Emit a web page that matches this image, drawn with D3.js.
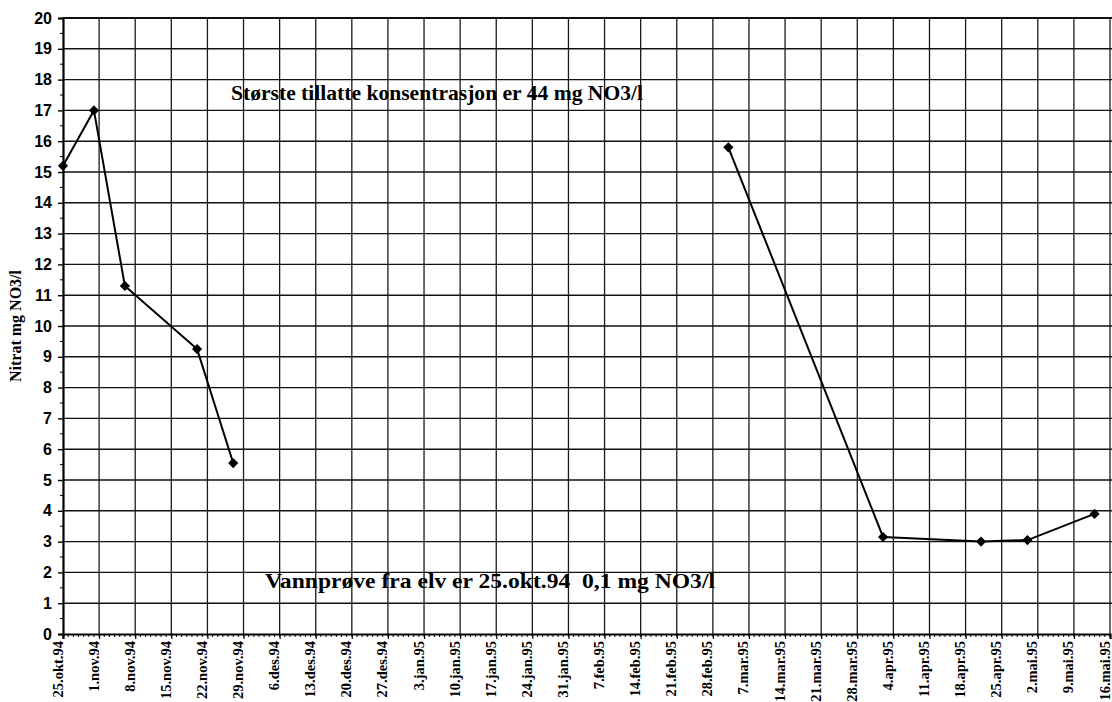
<!DOCTYPE html>
<html>
<head>
<meta charset="utf-8">
<script src="https://cdn.jsdelivr.net/npm/d3@7"></script>
<style>
  html, body { margin: 0; padding: 0; background: #fff; }
  svg { display: block; }
</style>
</head>
<body>
<div id="chart"></div>
<script>
// Nitrate samples (mg NO3/l), autumn 1994 and spring 1995
const autumnDates  = ["1994-10-25", "1994-10-31", "1994-11-06", "1994-11-20", "1994-11-27"];
const autumnValues = [15.2, 17.0, 11.3, 9.25, 5.55];
const springDates  = ["1995-03-03", "1995-04-02", "1995-04-21", "1995-04-30", "1995-05-13"];
const springValues = [15.8, 3.15, 3.0, 3.05, 3.9];

// Weekly axis labels starting 25.okt.94
const tickLabels = [
  "25.okt.94", "1.nov.94", "8.nov.94", "15.nov.94", "22.nov.94", "29.nov.94",
  "6.des.94", "13.des.94", "20.des.94", "27.des.94", "3.jan.95", "10.jan.95",
  "17.jan.95", "24.jan.95", "31.jan.95", "7.feb.95", "14.feb.95", "21.feb.95",
  "28.feb.95", "7.mar.95", "14.mar.95", "21.mar.95", "28.mar.95", "4.apr.95",
  "11.apr.95", "18.apr.95", "25.apr.95", "2.mai.95", "9.mai.95", "16.mai.95"
];
const yTicks = d3.range(0, 21, 1);

const noteTop = "Største tillatte konsentrasjon er 44 mg NO3/l";
const noteBottom = "Vannprøve fra elv er 25.okt.94  0,1 mg NO3/l";
const yTitle = "Nitrat mg NO3/l";

const W = 1112, H = 702;
const plotLeft = 63, plotTop = 18, plotBottom = 634, plotRight = 1112;

const parse = d3.utcParse("%Y-%m-%d");
const start = parse("1994-10-25");
const tickDates = tickLabels.map((_, i) => d3.utcDay.offset(start, 7 * i));

const x = d3.scaleUtc()
  .domain([start, tickDates[tickDates.length - 1]])
  .range([plotLeft, 1110]);
const y = d3.scaleLinear().domain([0, 20]).range([plotBottom, plotTop]);

const svg = d3.select("#chart").append("svg")
  .attr("width", W).attr("height", H);

// Horizontal grid
svg.append("g").selectAll("line").data(yTicks.filter(d => d > 0)).join("line")
  .attr("x1", plotLeft).attr("x2", plotRight)
  .attr("y1", d => y(d)).attr("y2", d => y(d))
  .attr("stroke", "#111").attr("stroke-width", d => d === 20 ? 2 : 1.4);

// Vertical grid
svg.append("g").selectAll("line").data(tickDates.slice(1)).join("line")
  .attr("x1", d => x(d)).attr("x2", d => x(d))
  .attr("y1", plotTop).attr("y2", plotBottom)
  .attr("stroke", "#1a1a1a").attr("stroke-width", 1.3);

// Daily minor ticks along the date axis
const days = d3.utcDay.range(start, d3.utcDay.offset(tickDates[tickDates.length - 1], 1));
svg.append("g").selectAll("line").data(days).join("line")
  .attr("x1", d => x(d)).attr("x2", d => x(d))
  .attr("y1", plotBottom).attr("y2", plotBottom + 3)
  .attr("stroke", "#000").attr("stroke-width", 1);

// Half-unit minor ticks on the value axis
svg.append("g").selectAll("line").data(d3.range(0.5, 20, 1)).join("line")
  .attr("x1", plotLeft - 3).attr("x2", plotLeft)
  .attr("y1", d => y(d)).attr("y2", d => y(d))
  .attr("stroke", "#000").attr("stroke-width", 1);

// Value axis
const yAxis = d3.axisLeft(y).tickValues(yTicks).tickSize(5).tickPadding(6)
  .tickFormat(d3.format("d"));
svg.append("g").attr("transform", `translate(${plotLeft},0)`).call(yAxis)
  .call(g => g.select(".domain").attr("stroke-width", 2.2))
  .call(g => g.selectAll(".tick line").attr("stroke-width", 1.4))
  .call(g => g.selectAll("text")
    .attr("font-family", "'Liberation Sans', Arial, sans-serif")
    .attr("font-weight", "bold").attr("font-size", 16).attr("fill", "#000"));

// Date axis: labels read upward, baseline on the tick
const xAxis = d3.axisBottom(x).tickValues(tickDates).tickSize(5)
  .tickFormat((d, i) => tickLabels[i]);
svg.append("g").attr("transform", `translate(0,${plotBottom})`).call(xAxis)
  .call(g => g.select(".domain").attr("stroke-width", 2.2))
  .call(g => g.selectAll(".tick line").attr("stroke-width", 1.2))
  .call(g => g.selectAll("text")
    .attr("font-family", "'Liberation Serif', 'Times New Roman', serif")
    .attr("font-weight", "bold").attr("font-size", 14.5).attr("fill", "#000")
    .attr("text-anchor", "end")
    .attr("transform", "rotate(-90)")
    .attr("x", -7).attr("y", -1).attr("dy", 0));

// Axis title
svg.append("text")
  .attr("transform", `translate(21,326) rotate(-90)`)
  .attr("text-anchor", "middle")
  .attr("font-family", "'Liberation Serif', 'Times New Roman', serif")
  .attr("font-weight", "bold").attr("font-size", 16)
  .text(yTitle);

// Nitrate line and diamond markers
const line = d3.line().x(d => x(d.date)).y(d => y(d.value));
const series = [
  autumnDates.map((s, i) => ({ date: parse(s), value: autumnValues[i] })),
  springDates.map((s, i) => ({ date: parse(s), value: springValues[i] }))
];
const plot = svg.append("g");
plot.selectAll("path.series").data(series).join("path")
  .attr("class", "series")
  .attr("d", line)
  .attr("fill", "none").attr("stroke", "#000").attr("stroke-width", 2);

const diamond = d3.symbol().type(d3.symbolSquare).size(52);
plot.selectAll("path.marker").data(series.flat()).join("path")
  .attr("class", "marker")
  .attr("d", diamond)
  .attr("transform", d => `translate(${x(d.date)},${y(d.value)}) rotate(45)`)
  .attr("fill", "#000");

// Notes
const noteFont = "'Liberation Serif', 'Times New Roman', serif";
svg.append("text")
  .attr("x", 231).attr("y", 100)
  .attr("font-family", noteFont).attr("font-weight", "bold").attr("font-size", 21.5)
  .attr("textLength", 412).attr("lengthAdjust", "spacingAndGlyphs")
  .text(noteTop);
svg.append("text")
  .attr("x", 265).attr("y", 588)
  .attr("font-family", noteFont).attr("font-weight", "bold").attr("font-size", 21)
  .attr("textLength", 450).attr("lengthAdjust", "spacingAndGlyphs")
  .attr("xml:space", "preserve").style("white-space", "pre")
  .text(noteBottom);
</script>
</body>
</html>
